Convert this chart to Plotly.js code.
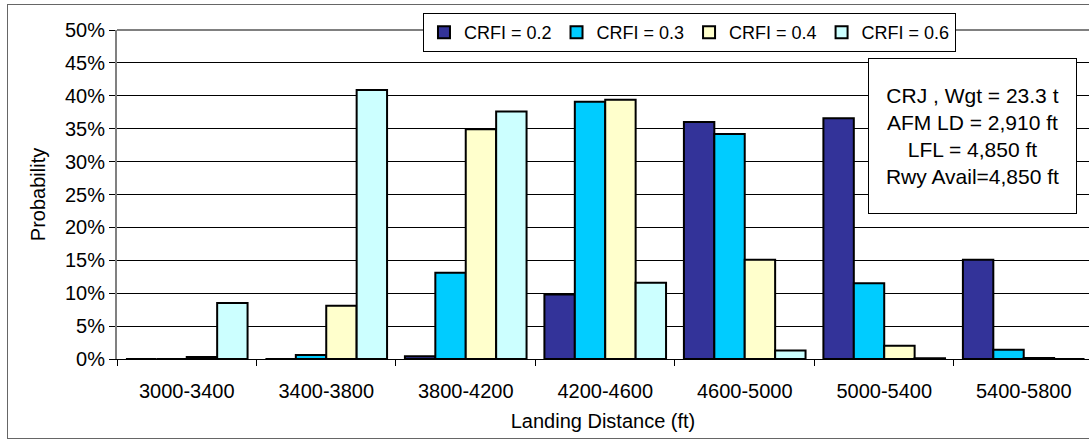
<!DOCTYPE html>
<html>
<head>
<meta charset="utf-8">
<script src="https://cdn.plot.ly/plotly-3.0.1.min.js"></script>
<style>
html,body{margin:0;padding:0;background:#fff;}
#wrap{position:relative;width:1089px;height:441px;overflow:hidden;}
#chart{position:absolute;left:0;top:0;width:1089px;height:441px;}
#frame{position:absolute;left:7px;top:4px;width:1100px;height:433px;border:1px solid #666;pointer-events:none;}
</style>
</head>
<body>
<div id="wrap"><div id="chart"></div><div id="frame"></div></div>
<script>
const categories = ["3000-3400","3400-3800","3800-4200","4200-4600","4600-5000","5000-5400","5400-5800"];
const crfi02 = [0, 0, 0.4, 9.8, 36.0, 36.6, 15.1];
const crfi03 = [0, 0.6, 13.1, 39.1, 34.2, 11.5, 1.4];
const crfi04 = [0.3, 8.1, 34.9, 39.4, 15.1, 2.0, 0.15];
const crfi06 = [8.5, 40.9, 37.6, 11.6, 1.3, 0.1, 0];
const seriesNames = ["CRFI = 0.2","CRFI = 0.3","CRFI = 0.4","CRFI = 0.6"];
const seriesColors = ["#333399","#00CCFF","#FFFFCC","#CCFFFF"];
const yTickVals = [0,5,10,15,20,25,30,35,40,45,50];
const noteLines = ["CRJ , Wgt = 23.3 t","AFM LD = 2,910 ft","LFL = 4,850 ft","Rwy Avail=4,850 ft"];

const FONT = "Liberation Sans, Arial, sans-serif";
const allValues = [crfi02, crfi03, crfi04, crfi06];
const traces = allValues.map((vals, i) => ({
  type: "bar",
  name: seriesNames[i],
  x: categories,
  y: vals,
  marker: {color: seriesColors[i], line: {color: "#000", width: 2}},
  hoverinfo: "x+y+name"
}));

const layout = {
  width: 1089, height: 441,
  margin: {l: 117, r: 0, t: 30, b: 82},
  paper_bgcolor: "rgba(0,0,0,0)",
  plot_bgcolor: "#fff",
  barmode: "group",
  bargap: 0.128,
  bargroupgap: 0,
  font: {family: FONT, size: 20, color: "#000"},
  xaxis: {
    type: "category",
    range: [-0.5, 6.468],
    tickson: "boundaries",
    ticks: "outside", ticklen: 6, tickcolor: "#000", tickwidth: 1,
    showline: true, linecolor: "#000", linewidth: 1,
    showgrid: false,
    tickfont: {family: FONT, size: 20},
    ticklabelstandoff: 14,
    title: {text: "Landing Distance (ft)", font: {family: FONT, size: 20}, standoff: 12}
  },
  yaxis: {
    range: [0, 50],
    tickvals: yTickVals,
    ticktext: yTickVals.map(v => v + "%"),
    ticks: "outside", ticklen: 6, tickcolor: "#000", tickwidth: 1,
    showline: true, linecolor: "#808080", linewidth: 2,
    showgrid: true, gridcolor: "#000", gridwidth: 1,
    zeroline: false,
    tickfont: {family: FONT, size: 20},
    title: {text: "Probability", font: {family: FONT, size: 20}, standoff: 14}
  },
  legend: {
    orientation: "h",
    x: 0.3148, xanchor: "left",
    y: 1.0517, yanchor: "top",
    bgcolor: "#fff", bordercolor: "#000", borderwidth: 1,
    font: {family: FONT, size: 18},
    traceorder: "normal",
    itemwidth: 30
  },
  shapes: [
    {type: "line", xref: "paper", yref: "paper", x0: 0, x1: 1, y0: 1, y1: 1,
     line: {color: "#808080", width: 2}, layer: "above"}
  ],
  annotations: [{
    xref: "paper", yref: "paper",
    x: 0.7726, xanchor: "left",
    y: 0.9149, yanchor: "top",
    text: noteLines.join("<br>"),
    showarrow: false,
    align: "center",
    font: {family: FONT, size: 21, color: "#000"},
    bgcolor: "#fff", bordercolor: "#000", borderwidth: 1,
    borderpad: 4,
    width: 199, height: 146
  }],
  showlegend: true
};

Plotly.newPlot("chart", traces, layout, {displayModeBar: false, staticPlot: true});
</script>
</body>
</html>
